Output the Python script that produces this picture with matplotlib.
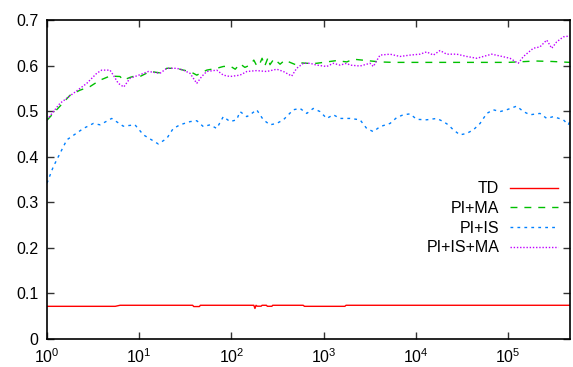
import matplotlib
matplotlib.use("Agg")
import matplotlib.pyplot as plt
from matplotlib.ticker import LogLocator, NullLocator

plt.rcParams['font.family'] = ['Liberation Sans', 'DejaVu Sans']
plt.rcParams['mathtext.fontset'] = 'custom'
plt.rcParams['mathtext.rm'] = 'Liberation Sans'

# ---- data ----
td_x = [1, 5.5, 6.2, 38, 39, 45, 46, 175, 180, 185, 190, 210, 215, 240, 245,
        275, 280, 600, 620, 1700, 1750, 470000]
td_y = [0.0717, 0.0717, 0.0740, 0.0740, 0.0712, 0.0712, 0.0740, 0.0740, 0.067,
        0.0740, 0.0720, 0.0720, 0.0740, 0.0740, 0.0718, 0.0718, 0.0740, 0.0740,
        0.0717, 0.0717, 0.0740, 0.0740]

pima_x = [1, 1.78, 2.28, 2.93, 3.76, 4.82, 6.19, 6.72, 7.94, 8.57, 10.2, 13.1,
          16.8, 19.9, 25.5, 30.1, 35.6, 42.1, 54.0, 69.3, 81.7, 96.6, 110, 124,
          140, 159, 175, 190, 204, 215, 230, 250, 262, 290, 337, 380, 432, 510,
          560, 656, 841, 1081, 1387, 1782, 2100, 2932, 4090, 5700, 10000, 30000,
          100000, 200000, 300000, 470000]
pima_y = [0.480, 0.535, 0.546, 0.554, 0.568, 0.577, 0.576, 0.568, 0.574, 0.576,
          0.576, 0.587, 0.584, 0.594, 0.594, 0.590, 0.587, 0.579, 0.590, 0.594,
          0.598, 0.599, 0.592, 0.604, 0.596, 0.601, 0.612, 0.598, 0.605, 0.616,
          0.599, 0.618, 0.602, 0.615, 0.603, 0.612, 0.607, 0.601, 0.606, 0.605,
          0.605, 0.608, 0.611, 0.608, 0.614, 0.611, 0.608, 0.607, 0.607, 0.607,
          0.607, 0.610, 0.609, 0.607]

piis_x = [1, 1.17, 1.64, 2.48, 3.18, 3.76, 5.03, 6.72, 9.0, 11.1, 16.1, 19.9,
          23.4, 25.5, 27.7, 35.6, 42.1, 49.6, 58.6, 69.3, 81.7, 96.6, 114, 124,
          147, 159, 188, 222, 262, 310, 366, 469, 555, 656, 773, 914, 1081, 1274,
          1506, 1934, 2483, 2932, 3461, 4090, 5250, 6210, 7310, 8650, 10230,
          13100, 16900, 19900, 22500, 25500, 30100, 35600, 42100, 49700, 58800,
          69300, 81900, 96800, 124000, 147000, 173000, 222000, 263000, 310000,
          398000, 451000, 470000]
piis_y = [0.342, 0.378, 0.437, 0.462, 0.473, 0.470, 0.484, 0.467, 0.470, 0.448,
          0.428, 0.440, 0.462, 0.466, 0.470, 0.477, 0.479, 0.466, 0.470, 0.462,
          0.488, 0.477, 0.481, 0.499, 0.488, 0.492, 0.503, 0.481, 0.470, 0.473,
          0.481, 0.503, 0.506, 0.495, 0.506, 0.499, 0.484, 0.492, 0.484, 0.484,
          0.481, 0.462, 0.455, 0.466, 0.473, 0.486, 0.492, 0.494, 0.482, 0.481,
          0.484, 0.477, 0.470, 0.459, 0.448, 0.451, 0.459, 0.473, 0.495, 0.503,
          0.499, 0.503, 0.511, 0.499, 0.492, 0.495, 0.484, 0.488, 0.481, 0.470,
          0.478]

piisma_x = [1, 1.38, 1.93, 2.70, 3.46, 3.92, 4.82, 5.24, 5.93, 6.8, 7.94, 10.2,
            12.6, 16.8, 19.9, 25.5, 30.1, 35.6, 42.1, 47.6, 54.0, 69.3, 81.7,
            96.6, 124, 147, 188, 241, 310, 366, 451, 510, 603, 712, 841, 1081,
            1274, 1506, 1782, 1934, 2483, 3186, 3461, 4090, 5250, 6740, 8650,
            11100, 13100, 15500, 18300, 21600, 27800, 35600, 45800, 54000, 66500,
            81900, 105000, 129000, 147000, 188000, 222000, 263000, 298000,
            337000, 398000, 470000]
piisma_y = [0.481, 0.517, 0.539, 0.561, 0.583, 0.590, 0.590, 0.579, 0.561, 0.553,
            0.572, 0.580, 0.587, 0.583, 0.594, 0.594, 0.590, 0.583, 0.561, 0.576,
            0.587, 0.590, 0.579, 0.576, 0.579, 0.587, 0.589, 0.587, 0.592, 0.587,
            0.577, 0.594, 0.605, 0.605, 0.601, 0.598, 0.605, 0.601, 0.605, 0.601,
            0.599, 0.605, 0.598, 0.623, 0.625, 0.620, 0.623, 0.625, 0.630, 0.623,
            0.633, 0.625, 0.625, 0.620, 0.616, 0.620, 0.625, 0.621, 0.616, 0.605,
            0.620, 0.638, 0.641, 0.656, 0.638, 0.652, 0.663, 0.665]

labels = ["TD", "PI+MA", "PI+IS", "PI+IS+MA"]
y_ticks = [0, 0.1, 0.2, 0.3, 0.4, 0.5, 0.6, 0.7]
x_min, x_max = 1, 470000

# ---- figure ----
fig = plt.figure(figsize=(5.73, 3.67), dpi=100)
ax = fig.add_axes([47 / 573, 1 - 339 / 367, (570 - 47) / 573, (339 - 20) / 367])

ax.plot(td_x, td_y, color='#ff0000', lw=1.0, label=labels[0])
ax.plot(pima_x, pima_y, color='#00c000', lw=1.0, dashes=(5, 5), label=labels[1])
ax.plot(piis_x, piis_y, color='#0080ff', lw=1.0, dashes=(2, 3), label=labels[2])
ax.plot(piisma_x, piisma_y, color='#c000ff', lw=1.0, dashes=(1, 1.3), label=labels[3])

ax.set_xscale('log')
ax.set_xlim(x_min, x_max)
ax.set_ylim(0, 0.7)
ax.set_yticks(y_ticks)
ax.set_yticklabels([f"{v:g}" for v in y_ticks])
ax.xaxis.set_major_locator(LogLocator(base=10, numticks=10))
ax.xaxis.set_minor_locator(NullLocator())

ax.tick_params(axis='both', which='major', direction='in', length=5, width=1,
               top=True, right=True, labelsize=11.5, pad=6, color='#333333')
for s in ax.spines.values():
    s.set_linewidth(1.2)

leg = ax.legend(loc='upper right', bbox_to_anchor=(0.99, 0.515), frameon=False,
                markerfirst=False, handlelength=3.0, labelspacing=0.3,
                fontsize=11.5, handletextpad=0.7, borderaxespad=0)
for t in leg.get_texts():
    t.set_ha('right')

fig.savefig('out.png', dpi=100)
